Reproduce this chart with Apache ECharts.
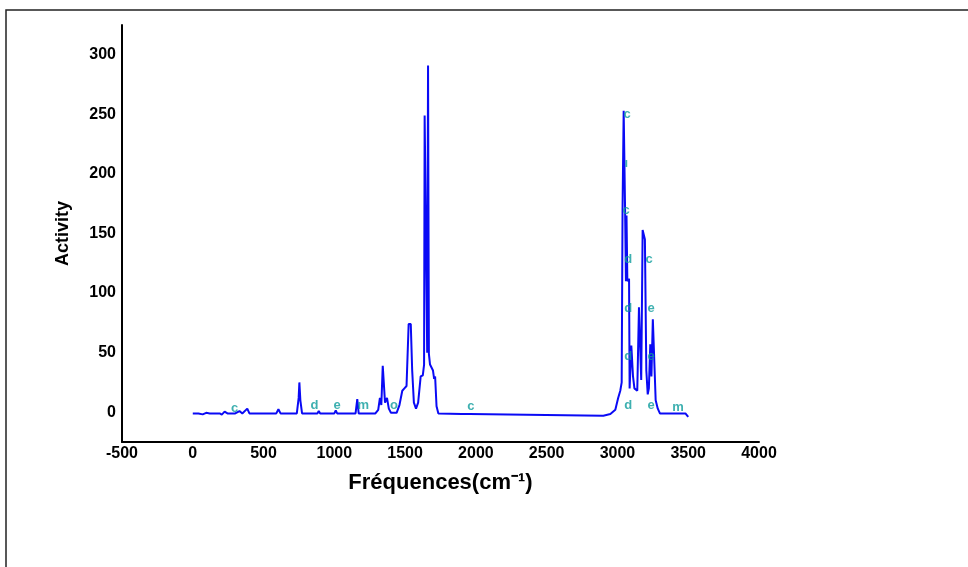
<!DOCTYPE html>
<html>

<head>
  <meta charset="utf-8">
  <title>Activity spectrum</title>
  <script src="https://cdn.jsdelivr.net/npm/echarts@6/dist/echarts.min.js"></script>
  <style>
    html, body { margin: 0; padding: 0; background: #fff; }
    #chart { width: 968px; height: 567px; }
  </style>
</head>

<body>
  <div id="chart"></div>
  <script type="text/javascript">
    // spectrum: frequency (cm-1) / activity
    var freq = [0, 40, 70, 95, 120, 190, 205, 225, 245, 300, 330, 350, 385, 400, 470, 480, 495, 590, 605, 620,
      735, 748, 753, 760, 772, 880, 890, 900, 1000, 1010, 1020, 1150, 1162, 1172, 1290, 1310, 1322, 1332, 1342, 1350,
      1358, 1372, 1385, 1400, 1440, 1460, 1480, 1495, 1510, 1525, 1540, 1550, 1562, 1577, 1592, 1610, 1625, 1634, 1638, 1648,
      1656, 1662, 1668, 1676, 1685, 1697, 1705, 1712, 1722, 1735, 1900, 1955, 1960, 2900, 2950, 2985, 3005, 3020, 3030, 3036,
      3044, 3050, 3054, 3060, 3064, 3070, 3082, 3086, 3098, 3104, 3110, 3120, 3130, 3140, 3152, 3160, 3168, 3178, 3186, 3194,
      3204, 3214, 3222, 3232, 3240, 3250, 3258, 3262, 3270, 3285, 3300, 3480, 3500];
    var activity = [-1, -1, -1.8, -0.5, -1, -1, -2, 0.5, -1, -1, 1, -1, 3, -1, -1, 0.5, -1, -1, 2.5, -1,
      -1, 12, 25, 10, -1, -1, 1, -1, -1, 1.5, -1, -1, 11, -1, -1, 2, 12, 6, 39, 39,
      8, 12, 3, -0.5, -0.5, 6, 18, 20, 22, 74, 74, 35, 8, 3, 8, 30, 31, 40, 249, 249,
      50, 291, 49, 40, 40, 35, 28, 30, 5, -1, -1.5, -1.5, -3, -3, -1.5, 2, 12, 18, 25, 170,
      253, 253, 170, 110, 165, 110, 112, 20, 56, 56, 30, 20, 20, 18, 88, 88, 27, 153, 153, 145,
      35, 15, 20, 57, 30, 78, 78, 77, 10, 3, -1, -1, -4];

    // small letters printed on the scan
    var markX = [296, 860, 1020, 1204, 1422, 1964, 3069, 3062, 3062, 3076, 3076, 3076, 3076, 3224, 3238, 3238, 3238, 3428];
    var markY = [3, 6, 6, 6, 6, 5, 250, 209, 169, 128, 87, 47, 6, 128, 87, 47, 6, 4];
    var markText = ['c', 'd', 'e', 'm', 'o', 'c', 'c', 'ı', 'c', 'd', 'd', 'd', 'd', 'c', 'e', 'e', 'e', 'm'];

    var xTicks = { min: -500, max: 4000, step: 500 };
    var yTicks = { min: -25, max: 325, step: 25, labelEvery: 50 };

    var font = "'Liberation Sans', Arial, sans-serif";

    var lineData = [];
    for (var i = 0; i < freq.length; i++) {
      lineData.push([freq[i], activity[i]]);
    }
    var markData = [];
    for (var j = 0; j < markX.length; j++) {
      markData.push({ value: [markX[j], markY[j]], name: markText[j] });
    }

    var myChart = echarts.init(document.getElementById('chart'), null, { renderer: 'canvas' });
    myChart.setOption({
      backgroundColor: '#fff',
      animation: false,
      graphic: [{
        type: 'rect',
        shape: { x: 6, y: 10, width: 1000, height: 600 },
        style: { fill: 'none', stroke: '#222', lineWidth: 1.5 },
        silent: true
      }],
      grid: { left: 122, right: 209, top: 25, bottom: 125 },
      xAxis: {
        type: 'value',
        min: xTicks.min,
        max: xTicks.max,
        interval: xTicks.step,
        name: 'Fréquences(cm⁻¹)',
        nameLocation: 'middle',
        nameGap: 30,
        nameTextStyle: { fontFamily: font, fontWeight: 'bold', fontSize: 22, color: '#000' },
        axisLine: { onZero: false, lineStyle: { color: '#000', width: 2 } },
        axisTick: { show: false },
        splitLine: { show: false },
        axisLabel: {
          fontFamily: font, fontWeight: 'bold', fontSize: 16, color: '#000', margin: 4,
          formatter: function (v) { return String(v); }
        }
      },
      yAxis: {
        type: 'value',
        min: yTicks.min,
        max: yTicks.max,
        interval: yTicks.step,
        name: 'Activity',
        nameLocation: 'middle',
        nameGap: 50,
        nameTextStyle: { fontFamily: font, fontWeight: 'bold', fontSize: 18, color: '#000' },
        axisLine: { show: true, onZero: false, lineStyle: { color: '#000', width: 2 } },
        axisTick: { show: false },
        splitLine: { show: false },
        axisLabel: {
          fontFamily: font, fontWeight: 'bold', fontSize: 16, color: '#000', margin: 6,
          formatter: function (v) {
            return v % yTicks.labelEvery === 0 ? String(v) : '';
          }
        }
      },
      series: [{
        type: 'line',
        data: lineData,
        symbol: 'none',
        lineStyle: { color: '#0a0af5', width: 2 },
        z: 2
      }, {
        type: 'scatter',
        data: markData,
        symbolSize: 0,
        label: {
          show: true,
          position: 'inside',
          formatter: '{b}',
          fontFamily: font,
          fontWeight: 'bold',
          fontSize: 13,
          color: '#0e9c9c'
        },
        z: 3
      }]
    });
  </script>
</body>

</html>
